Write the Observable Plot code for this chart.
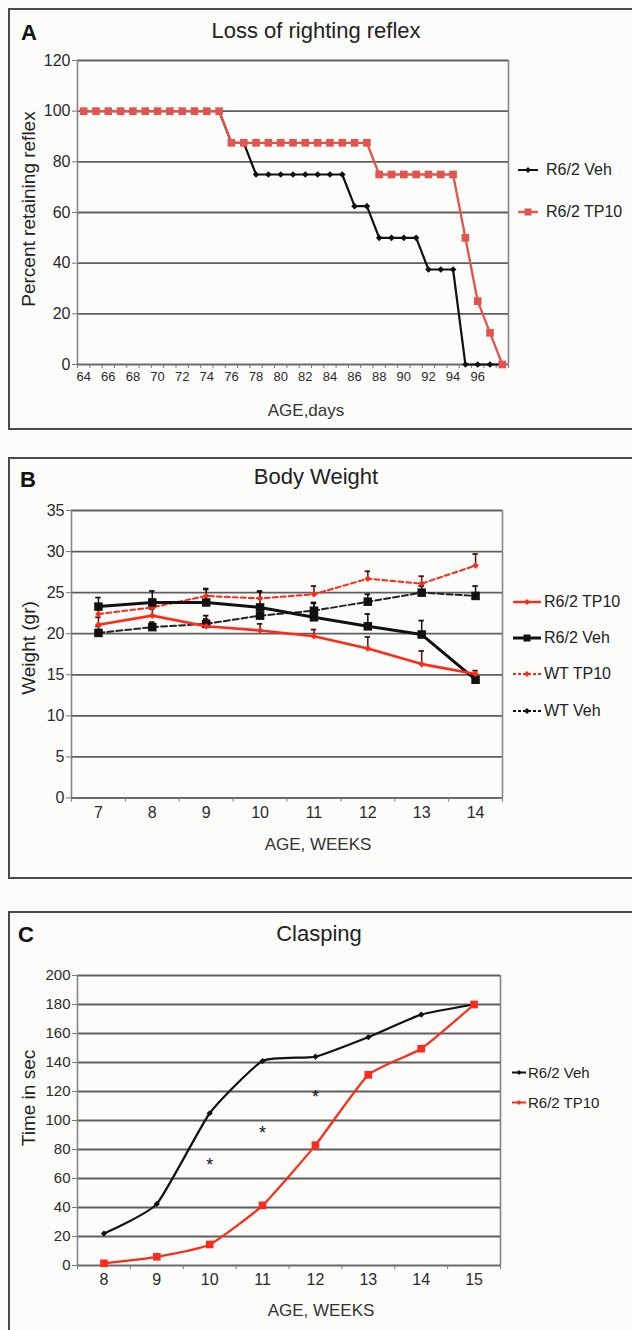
<!DOCTYPE html>
<html>
<head>
<meta charset="utf-8">
<script src="https://cdn.jsdelivr.net/npm/d3@7"></script>
<script src="https://cdn.jsdelivr.net/npm/@observablehq/plot@0.6"></script>
<style>
  html,body{margin:0;padding:0;background:#fcfcfa;}
  #page{position:relative;width:632px;height:1330px;overflow:hidden;background:#fcfcfa;font-family:"Liberation Sans",Arial,sans-serif;color:#222;}
  .panel{position:absolute;left:8px;width:640px;border:2px solid #4a4a4a;box-sizing:border-box;}
  .t{position:absolute;white-space:nowrap;line-height:1;}
  .letter{font-weight:bold;font-size:22px;color:#111;}
  .title{font-size:22px;transform:translateX(-50%);color:#222;}
  .ylab{font-size:19px;transform:translate(-50%,-50%) rotate(-90deg);color:#222;}
  .xlab{font-size:17px;transform:translate(-50%,-50%);color:#333;}
  .leg{position:absolute;display:flex;align-items:center;font-size:16px;color:#222;transform:translateY(-50%);white-space:nowrap;line-height:1;}
  .leg svg{overflow:visible;display:block;}
</style>
</head>
<body>
<div id="page"></div>
<script>
// ---------------- Panel A: Loss of righting reflex ----------------
const daysA = [64,65,66,67,68,69,70,71,72,73,74,75,76,77,78,79,80,81,82,83,84,85,86,87,88,89,90,91,92,93,94,95,96,97,98];
const vehA  = [100,100,100,100,100,100,100,100,100,100,100,100,87.5,87.5,75,75,75,75,75,75,75,75,62.5,62.5,50,50,50,50,37.5,37.5,37.5,0,0,0,0];
const tp10A = [100,100,100,100,100,100,100,100,100,100,100,100,87.5,87.5,87.5,87.5,87.5,87.5,87.5,87.5,87.5,87.5,87.5,87.5,75,75,75,75,75,75,75,50,25,12.5,0];
const dayLabelsA = [64,66,68,70,72,74,76,78,80,82,84,86,88,90,92,94,96];
const yTicksA = [0,20,40,60,80,100,120];

// ---------------- Panel B: Body Weight ----------------
const weeksB = [7,8,9,10,11,12,13,14];
const r62Tp10B    = [21.1,22.2,20.9,20.4,19.7,18.2,16.3,15.1];
const r62Tp10ErrB = [0.9,0.8,0.9,0.8,0.8,1.4,1.6,0.4];
const r62VehB     = [23.3,23.8,23.8,23.2,22.0,20.9,19.9,14.4];
const r62VehErrB  = [1.1,1.4,1.6,1.9,1.7,1.5,1.7,0.4];
const wtTp10B     = [22.4,23.2,24.6,24.3,24.8,26.7,26.1,28.3];
const wtTp10ErrB  = [0.8,1.0,0.9,0.9,1.0,0.9,0.9,1.4];
const wtVehB      = [20.1,20.8,21.2,22.2,22.8,23.9,25.0,24.6];
const wtVehErrB   = [0.8,0.6,1.0,1.1,1.0,0.9,0.8,1.2];
const yTicksB = [0,5,10,15,20,25,30,35];

// ---------------- Panel C: Clasping ----------------
const weeksC = [8,9,10,11,12,13,14,15];
const vehC  = [22,42.5,105,141,144,157.5,173,180];
const tp10C = [1.5,6,14.5,41.5,83,131.5,149.5,180];
const starWeeksC  = [10,11,12];
const starValuesC = [69,91,116];
const starLabelsC = ["*","*","*"];
const yTicksC = [0,20,40,60,80,100,120,140,160,180,200];

// ---------------- helpers ----------------
const FONT = '"Liberation Sans", Arial, sans-serif';
const page = document.getElementById("page");
const GRID = "#5f5f5f", FRAME = "#858585";

function addDiv(cls, text, x, y, extra) {
  const d = document.createElement("div");
  d.className = cls;
  d.textContent = text;
  d.style.left = x + "px";
  d.style.top = y + "px";
  if (extra) Object.assign(d.style, extra);
  page.appendChild(d);
  return d;
}
function addPanel(top, height) {
  const d = document.createElement("div");
  d.className = "panel";
  d.style.top = top + "px";
  d.style.height = height + "px";
  page.appendChild(d);
}
function addPlot(top, opts) {
  const el = Plot.plot({
    ...opts,
    style: {background: "transparent", fontFamily: FONT, color: "#2a2a2a", overflow: "visible"}
  });
  el.style.position = "absolute";
  el.style.left = "0px";
  el.style.top = top + "px";
  page.appendChild(el);
}
function legend(x, y, label, o) {
  const d = document.createElement("div");
  d.className = "leg";
  d.style.left = x + "px";
  d.style.top = y + "px";
  if (o.fontSize) d.style.fontSize = o.fontSize + "px";
  const w = o.w;
  let sym = "";
  const c = w / 2, s = o.size;
  if (o.sym === "square") sym = `<rect x="${c - s/2}" y="${6 - s/2}" width="${s}" height="${s}" fill="${o.color}"/>`;
  else sym = `<path d="M${c},${6 - s} L${c + s},6 L${c},${6 + s} L${c - s},6 Z" fill="${o.color}"/>`;
  d.innerHTML = `<svg width="${w}" height="12" style="margin-right:${o.gap}px"><line x1="0" x2="${w}" y1="6" y2="6" stroke="${o.color}" stroke-width="${o.lw}" ${o.dash ? `stroke-dasharray="${o.dash}"` : ""}/>${sym}</svg><span>${label}</span>`;
  page.appendChild(d);
}
function frameMarks(x0, x1, yTicks) {
  return [
    Plot.ruleY(yTicks.slice(1), {stroke: GRID, strokeWidth: 1.8}),
    Plot.ruleX([x1], {stroke: FRAME, strokeWidth: 1.6}),
    Plot.ruleX([x0], {stroke: FRAME, strokeWidth: 1.6}),
    Plot.ruleY([yTicks[0]], {stroke: "#6a6a6a", strokeWidth: 2})
  ];
}

// ================= Panel A =================
addPanel(8, 422);
addDiv("t letter", "A", 21, 22);
addDiv("t title", "Loss of righting reflex", 316, 20);
addDiv("t ylab", "Percent retaining reflex", 28, 209);
addDiv("t xlab", "AGE,days", 306, 410);

const dataA = daysA.map((d, i) => ({day: d, veh: vehA[i], tp10: tp10A[i]}));
const boundsA = daysA.map(d => d - 0.5).concat([daysA[daysA.length - 1] + 0.5]);
const x0A = boundsA[0], x1A = boundsA[boundsA.length - 1];
const RED_A = "#e4534d";
addPlot(0, {
  width: 632, height: 404,
  marginLeft: 77, marginRight: 124, marginTop: 60, marginBottom: 40,
  x: {domain: [x0A, x1A]},
  y: {domain: [0, 120]},
  marks: [
    ...frameMarks(x0A, x1A, yTicksA),
    Plot.axisY({ticks: yTicksA, tickSize: 5, tickPadding: 2, fontSize: 16, label: null, stroke: "#777"}),
    Plot.axisX({ticks: dayLabelsA, tickSize: 0, tickPadding: 7, fontSize: 13, label: null}),
    Plot.axisX({ticks: boundsA, tickSize: 4, tickFormat: () => "", label: null, stroke: "#777"}),
    Plot.line(dataA, {x: "day", y: "veh", stroke: "#111", strokeWidth: 2.2}),
    Plot.dot(dataA, {x: "day", y: "veh", symbol: "diamond2", r: 3, fill: "#111", stroke: "none"}),
    Plot.line(dataA, {x: "day", y: "tp10", stroke: RED_A, strokeWidth: 2.3}),
    Plot.dot(dataA, {x: "day", y: "tp10", symbol: "square", r: 4.3, fill: RED_A, stroke: "none"})
  ]
});
legend(518, 170, "R6/2 Veh", {w: 20, gap: 8, color: "#111", lw: 2, sym: "diamond", size: 3});
legend(518, 212, "R6/2 TP10", {w: 20, gap: 8, color: RED_A, lw: 2.3, sym: "square", size: 7});

// ================= Panel B =================
addPanel(457, 422);
addDiv("t letter", "B", 20, 469);
addDiv("t title", "Body Weight", 316, 466);
addDiv("t ylab", "Weight (gr)", 28, 648);
addDiv("t xlab", "AGE, WEEKS", 318, 844);

const RED_B = "#ff2a1a";
const mk = (vals, errs) => weeksB.map((w, i) => ({week: w, v: vals[i], top: vals[i] + errs[i]}));
const dWtVeh = mk(wtVehB, wtVehErrB), dWtTp10 = mk(wtTp10B, wtTp10ErrB);
const dR62Veh = mk(r62VehB, r62VehErrB), dR62Tp10 = mk(r62Tp10B, r62Tp10ErrB);
const boundsB = weeksB.map(w => w - 0.5).concat([weeksB[weeksB.length - 1] + 0.5]);
const x0B = boundsB[0], x1B = boundsB[boundsB.length - 1];
function errMarks(data, color) {
  return [
    Plot.ruleX(data, {x: "week", y1: "v", y2: "top", stroke: color, strokeWidth: 1.5}),
    Plot.ruleY(data, {y: "top", x1: d => d.week - 0.05, x2: d => d.week + 0.05, stroke: color, strokeWidth: 1.8})
  ];
}
addPlot(460, {
  width: 632, height: 377.5,
  marginLeft: 71, marginRight: 130, marginTop: 50, marginBottom: 40,
  x: {domain: [x0B, x1B]},
  y: {domain: [0, 35]},
  marks: [
    ...frameMarks(x0B, x1B, yTicksB),
    Plot.axisY({ticks: yTicksB, tickSize: 5, tickPadding: 2, fontSize: 16, label: null, stroke: "#777"}),
    Plot.axisX({ticks: weeksB, tickSize: 0, tickPadding: 9, fontSize: 16, label: null}),
    Plot.axisX({ticks: boundsB, tickSize: 4, tickFormat: () => "", label: null, stroke: "#777"}),
    ...errMarks(dWtVeh, "#111"),
    ...errMarks(dWtTp10, "#4a1410"),
    ...errMarks(dR62Veh, "#111"),
    ...errMarks(dR62Tp10, "#4a1410"),
    Plot.line(dWtVeh, {x: "week", y: "v", stroke: "#222", strokeWidth: 2, strokeDasharray: "6,3"}),
    Plot.dot(dWtVeh, {x: "week", y: "v", symbol: "square", r: 4.8, fill: "#111", stroke: "none"}),
    Plot.line(dWtTp10, {x: "week", y: "v", stroke: RED_B, strokeWidth: 2, strokeDasharray: "5,3"}),
    Plot.dot(dWtTp10, {x: "week", y: "v", symbol: "diamond2", r: 3, fill: RED_B, stroke: "none"}),
    Plot.line(dR62Veh, {x: "week", y: "v", stroke: "#111", strokeWidth: 3}),
    Plot.dot(dR62Veh, {x: "week", y: "v", symbol: "square", r: 4.8, fill: "#111", stroke: "none"}),
    Plot.line(dR62Tp10, {x: "week", y: "v", stroke: RED_B, strokeWidth: 2.6}),
    Plot.dot(dR62Tp10, {x: "week", y: "v", symbol: "diamond2", r: 3, fill: RED_B, stroke: "none"})
  ]
});
legend(513, 602, "R6/2 TP10", {w: 28, gap: 3, color: RED_B, lw: 2.4, sym: "diamond", size: 3});
legend(513, 638, "R6/2 Veh", {w: 28, gap: 3, color: "#111", lw: 3, sym: "square", size: 7});
legend(513, 674, "WT TP10", {w: 28, gap: 3, color: RED_B, lw: 2, dash: "3,2", sym: "diamond", size: 3});
legend(513, 711, "WT Veh", {w: 28, gap: 3, color: "#111", lw: 2, dash: "3,2", sym: "diamond", size: 3});

// ================= Panel C =================
addPanel(911, 440);
addDiv("t letter", "C", 18, 924);
addDiv("t title", "Clasping", 319, 923);
addDiv("t ylab", "Time in sec", 28, 1098);
addDiv("t xlab", "AGE, WEEKS", 321, 1310);

const RED_C = "#ff2a1a";
const dataC = weeksC.map((w, i) => ({week: w, veh: vehC[i], tp10: tp10C[i]}));
const starsC = starWeeksC.map((w, i) => ({week: w, v: starValuesC[i], s: starLabelsC[i]}));
const boundsC = weeksC.map(w => w - 0.5).concat([weeksC[weeksC.length - 1] + 0.5]);
const x0C = boundsC[0], x1C = boundsC[boundsC.length - 1];
addPlot(920, {
  width: 632, height: 385,
  marginLeft: 77, marginRight: 132, marginTop: 55, marginBottom: 40,
  x: {domain: [x0C, x1C]},
  y: {domain: [0, 200]},
  marks: [
    ...frameMarks(x0C, x1C, yTicksC),
    Plot.axisY({ticks: yTicksC, tickSize: 5, tickPadding: 2, fontSize: 15, label: null, stroke: "#777"}),
    Plot.axisX({ticks: weeksC, tickSize: 0, tickPadding: 8, fontSize: 16, label: null}),
    Plot.axisX({ticks: boundsC, tickSize: 4, tickFormat: () => "", label: null, stroke: "#777"}),
    Plot.line(dataC, {x: "week", y: "veh", curve: "cardinal", tension: 0.5, stroke: "#111", strokeWidth: 2.2}),
    Plot.dot(dataC, {x: "week", y: "veh", symbol: "diamond2", r: 2.8, fill: "#111", stroke: "none"}),
    Plot.line(dataC, {x: "week", y: "tp10", curve: "cardinal", tension: 0.5, stroke: RED_C, strokeWidth: 2.2}),
    Plot.dot(dataC, {x: "week", y: "tp10", symbol: "square", r: 4.3, fill: RED_C, stroke: "none"}),
    Plot.text(starsC, {x: "week", y: "v", text: "s", fontSize: 18, fill: "#111"})
  ]
});
legend(512, 1072, "R6/2 Veh", {w: 14, gap: 2, color: "#111", lw: 2, sym: "diamond", size: 2.5, fontSize: 15});
legend(512, 1102, "R6/2 TP10", {w: 14, gap: 2, color: RED_C, lw: 2, sym: "diamond", size: 2.5, fontSize: 15});
</script>
</body>
</html>
